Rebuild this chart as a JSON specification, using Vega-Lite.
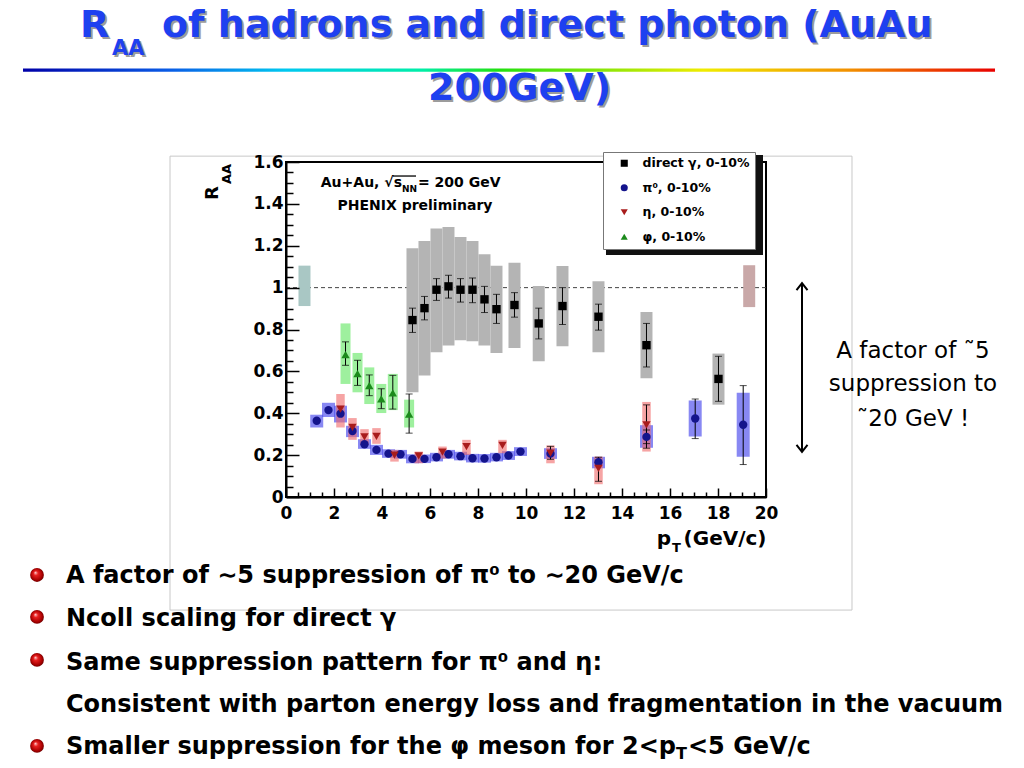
{
  "$schema": "https://vega.github.io/schema/vega-lite/v6.json",
  "width": 480,
  "height": 335,
  "autosize": {"type": "none"},
  "padding": {"left": 286, "top": 162, "right": 258, "bottom": 271},
  "background": "white",
  "config": {"view": {"stroke": "black", "strokeWidth": 2}, "font": "DejaVu Sans"},
  "datasets": {
    "pts": [
      {"k": "g", "s": "direct γ, 0-10%", "pT": 5.27, "R": 0.845, "eL": 0.786, "eH": 0.902, "sL": 0.5, "sH": 1.188},
      {"k": "g", "s": "direct γ, 0-10%", "pT": 5.77, "R": 0.902, "eL": 0.846, "eH": 0.958, "sL": 0.58, "sH": 1.223},
      {"k": "g", "s": "direct γ, 0-10%", "pT": 6.27, "R": 0.99, "eL": 0.939, "eH": 1.043, "sL": 0.691, "sH": 1.282},
      {"k": "g", "s": "direct γ, 0-10%", "pT": 6.77, "R": 1.006, "eL": 0.95, "eH": 1.059, "sL": 0.723, "sH": 1.289},
      {"k": "g", "s": "direct γ, 0-10%", "pT": 7.27, "R": 0.99, "eL": 0.931, "eH": 1.043, "sL": 0.749, "sH": 1.242},
      {"k": "g", "s": "direct γ, 0-10%", "pT": 7.77, "R": 0.99, "eL": 0.928, "eH": 1.046, "sL": 0.744, "sH": 1.223},
      {"k": "g", "s": "direct γ, 0-10%", "pT": 8.27, "R": 0.944, "eL": 0.881, "eH": 1.006, "sL": 0.723, "sH": 1.159},
      {"k": "g", "s": "direct γ, 0-10%", "pT": 8.77, "R": 0.897, "eL": 0.829, "eH": 0.968, "sL": 0.688, "sH": 1.105},
      {"k": "g", "s": "direct γ, 0-10%", "pT": 9.52, "R": 0.917, "eL": 0.859, "eH": 0.976, "sL": 0.712, "sH": 1.119},
      {"k": "g", "s": "direct γ, 0-10%", "pT": 10.53, "R": 0.829, "eL": 0.755, "eH": 0.902, "sL": 0.648, "sH": 1.008},
      {"k": "g", "s": "direct γ, 0-10%", "pT": 11.52, "R": 0.912, "eL": 0.824, "eH": 1.0, "sL": 0.72, "sH": 1.103},
      {"k": "g", "s": "direct γ, 0-10%", "pT": 13.02, "R": 0.861, "eL": 0.797, "eH": 0.921, "sL": 0.691, "sH": 1.03},
      {"k": "g", "s": "direct γ, 0-10%", "pT": 15.02, "R": 0.725, "eL": 0.621, "eH": 0.829, "sL": 0.567, "sH": 0.883},
      {"k": "g", "s": "direct γ, 0-10%", "pT": 18.02, "R": 0.564, "eL": 0.457, "eH": 0.672, "sL": 0.441, "sH": 0.685},
      {"k": "p", "s": "π⁰,  0-10%", "pT": 1.28, "R": 0.364, "sL": 0.332, "sH": 0.393},
      {"k": "p", "s": "π⁰,  0-10%", "pT": 1.77, "R": 0.415, "sL": 0.382, "sH": 0.45},
      {"k": "p", "s": "π⁰,  0-10%", "pT": 2.27, "R": 0.398, "sL": 0.356, "sH": 0.436},
      {"k": "p", "s": "π⁰,  0-10%", "pT": 2.77, "R": 0.315, "sL": 0.286, "sH": 0.34},
      {"k": "p", "s": "π⁰,  0-10%", "pT": 3.27, "R": 0.252, "sL": 0.23, "sH": 0.276},
      {"k": "p", "s": "π⁰,  0-10%", "pT": 3.77, "R": 0.225, "sL": 0.201, "sH": 0.249},
      {"k": "p", "s": "π⁰,  0-10%", "pT": 4.27, "R": 0.207, "sL": 0.187, "sH": 0.228},
      {"k": "p", "s": "π⁰,  0-10%", "pT": 4.77, "R": 0.204, "sL": 0.183, "sH": 0.225},
      {"k": "p", "s": "π⁰,  0-10%", "pT": 5.27, "R": 0.182, "sL": 0.161, "sH": 0.204},
      {"k": "p", "s": "π⁰,  0-10%", "pT": 5.77, "R": 0.182, "sL": 0.162, "sH": 0.203},
      {"k": "p", "s": "π⁰,  0-10%", "pT": 6.27, "R": 0.19, "sL": 0.17, "sH": 0.211},
      {"k": "p", "s": "π⁰,  0-10%", "pT": 6.77, "R": 0.204, "sL": 0.183, "sH": 0.225},
      {"k": "p", "s": "π⁰,  0-10%", "pT": 7.27, "R": 0.195, "sL": 0.175, "sH": 0.216},
      {"k": "p", "s": "π⁰,  0-10%", "pT": 7.77, "R": 0.185, "sL": 0.165, "sH": 0.206},
      {"k": "p", "s": "π⁰,  0-10%", "pT": 8.27, "R": 0.184, "sL": 0.164, "sH": 0.205},
      {"k": "p", "s": "π⁰,  0-10%", "pT": 8.77, "R": 0.19, "sL": 0.17, "sH": 0.211},
      {"k": "p", "s": "π⁰,  0-10%", "pT": 9.27, "R": 0.198, "sL": 0.177, "sH": 0.219},
      {"k": "p", "s": "π⁰,  0-10%", "pT": 9.77, "R": 0.217, "sL": 0.196, "sH": 0.238},
      {"k": "p", "s": "π⁰,  0-10%", "pT": 11.02, "R": 0.207, "sL": 0.182, "sH": 0.233},
      {"k": "p", "s": "π⁰,  0-10%", "pT": 13.02, "R": 0.166, "sL": 0.137, "sH": 0.192},
      {"k": "p", "s": "π⁰,  0-10%", "pT": 15.02, "R": 0.287, "eL": 0.255, "eH": 0.32, "sL": 0.235, "sH": 0.343},
      {"k": "p", "s": "π⁰,  0-10%", "pT": 17.05, "R": 0.375, "eL": 0.279, "eH": 0.468, "sL": 0.289, "sH": 0.461},
      {"k": "p", "s": "π⁰,  0-10%", "pT": 19.05, "R": 0.345, "eL": 0.155, "eH": 0.532, "sL": 0.192, "sH": 0.498},
      {"k": "e", "s": "η, 0-10%", "pT": 2.27, "R": 0.42, "sL": 0.332, "sH": 0.492},
      {"k": "e", "s": "η, 0-10%", "pT": 2.77, "R": 0.332, "sL": 0.273, "sH": 0.377},
      {"k": "e", "s": "η, 0-10%", "pT": 3.27, "R": 0.287, "sL": 0.249, "sH": 0.324},
      {"k": "e", "s": "η, 0-10%", "pT": 3.77, "R": 0.289, "sL": 0.254, "sH": 0.329},
      {"k": "e", "s": "η, 0-10%", "pT": 4.52, "R": 0.2, "sL": 0.169, "sH": 0.225},
      {"k": "e", "s": "η, 0-10%", "pT": 5.53, "R": 0.196, "sL": 0.161, "sH": 0.217},
      {"k": "e", "s": "η, 0-10%", "pT": 6.52, "R": 0.214, "sL": 0.184, "sH": 0.241},
      {"k": "e", "s": "η, 0-10%", "pT": 7.52, "R": 0.241, "sL": 0.201, "sH": 0.273},
      {"k": "e", "s": "η, 0-10%", "pT": 9.02, "R": 0.246, "sL": 0.209, "sH": 0.273},
      {"k": "e", "s": "η, 0-10%", "pT": 11.02, "R": 0.209, "eL": 0.18, "eH": 0.242, "sL": 0.161, "sH": 0.246},
      {"k": "e", "s": "η, 0-10%", "pT": 13.02, "R": 0.137, "eL": 0.075, "eH": 0.19, "sL": 0.061, "sH": 0.193},
      {"k": "e", "s": "η, 0-10%", "pT": 15.02, "R": 0.345, "eL": 0.233, "eH": 0.44, "sL": 0.217, "sH": 0.454},
      {"k": "f", "s": "φ, 0-10%", "pT": 2.48, "R": 0.68, "eL": 0.629, "eH": 0.741, "sL": 0.54, "sH": 0.829},
      {"k": "f", "s": "φ, 0-10%", "pT": 2.98, "R": 0.589, "eL": 0.533, "eH": 0.653, "sL": 0.5, "sH": 0.688},
      {"k": "f", "s": "φ, 0-10%", "pT": 3.47, "R": 0.532, "eL": 0.484, "eH": 0.583, "sL": 0.444, "sH": 0.619},
      {"k": "f", "s": "φ, 0-10%", "pT": 3.97, "R": 0.469, "eL": 0.422, "eH": 0.517, "sL": 0.401, "sH": 0.54},
      {"k": "f", "s": "φ, 0-10%", "pT": 4.45, "R": 0.497, "eL": 0.42, "eH": 0.581, "sL": 0.415, "sH": 0.588},
      {"k": "f", "s": "φ, 0-10%", "pT": 5.13, "R": 0.396, "eL": 0.305, "eH": 0.492, "sL": 0.332, "sH": 0.465}
    ],
    "norm": [
      {"c": "gamma", "pT": 0.77, "sL": 0.912, "sH": 1.105},
      {"c": "pi0", "pT": 19.3, "sL": 0.907, "sH": 1.107}
    ],
    "deco": [
      {"k": "box", "pT": -4.833, "pT2": 23.583, "R": 1.628, "R2": -0.54},
      {"k": "rainbow", "pT": -10.958, "pT2": 29.542, "R": 2.047, "R2": 2.031},
      {"k": "shadow", "pT": 13.333, "pT2": 19.875, "R": 1.633, "R2": 1.156},
      {"k": "unity", "pT": 0, "pT2": 20, "R": 1},
      {"k": "overline", "pT": 4.458, "pT2": 5.417, "R": 1.533},
      {"k": "arrow", "pT": 21.5, "R": 1.022, "R2": 0.215},
      {"k": "headUp", "pT": 21.5, "R": 1.022},
      {"k": "headDown", "pT": 21.5, "R": 0.215},
      {"k": "ball", "pT": -10.375, "R": -0.3725},
      {"k": "ball", "pT": -10.375, "R": -0.573},
      {"k": "ball", "pT": -10.375, "R": -0.778},
      {"k": "ball", "pT": -10.375, "R": -1.189}
    ],
    "txt": [
      {"k": "title", "pT": -8.583, "R": 2.197, "t": "R"},
      {"k": "title", "pT": -5.167, "R": 2.197, "t": "of hadrons and direct photon (AuAu"},
      {"k": "title", "pT": 5.917, "R": 1.895, "t": "200GeV)"},
      {"k": "titleSub", "pT": -7.25, "R": 2.111, "t": "AA"},
      {"k": "note", "pT": 26.125, "R": 0.664, "t": "A factor of ˜5"},
      {"k": "note", "pT": 26.125, "R": 0.506, "t": "suppression to"},
      {"k": "note", "pT": 26.125, "R": 0.339, "t": "˜20 GeV !"},
      {"k": "bullet", "pT": -9.167, "R": -0.411, "t": "A factor of ∼5 suppression of π⁰ to ∼20 GeV/c"},
      {"k": "bullet", "pT": -9.167, "R": -0.616, "t": "Ncoll scaling for direct γ"},
      {"k": "bullet", "pT": -9.167, "R": -0.826, "t": "Same suppression pattern for π⁰ and η:"},
      {"k": "bullet", "pT": -9.167, "R": -1.027, "t": "Consistent with parton energy loss and fragmentation  in the vacuum"},
      {"k": "bullet", "pT": -9.167, "R": -1.227, "t": "Smaller suppression for the φ meson for 2<p"},
      {"k": "bullet", "pT": 16.75, "R": -1.227, "t": "<5 GeV/c"},
      {"k": "bulletSub", "pT": 16.25, "R": -1.251, "t": "T"},
      {"k": "plotC", "pT": 5.375, "R": 1.371, "t": "PHENIX preliminary"},
      {"k": "plotR", "pT": 4.833, "R": 1.48, "t": "Au+Au, √s"},
      {"k": "plotL", "pT": 5.5, "R": 1.48, "t": "= 200 GeV"},
      {"k": "plotSub", "pT": 4.833, "R": 1.457, "t": "NN"},
      {"k": "xt", "pT": 16.042, "R": -0.229, "t": "p"},
      {"k": "xt", "pT": 20.02, "R": -0.229, "t": "(GeV/c)"},
      {"k": "xtSub", "pT": 16.083, "R": -0.263, "t": "T"},
      {"k": "yt", "pT": -2.833, "R": 1.418, "t": "R"},
      {"k": "ytSub", "pT": -2.292, "R": 1.495, "t": "AA"}
    ]
  },
  "encoding": {
    "x": {
      "field": "pT", "type": "quantitative",
      "scale": {"domain": [0, 20], "nice": false, "zero": false, "padding": 0},
      "axis": {
        "values": [0, 0.5, 1, 1.5, 2, 2.5, 3, 3.5, 4, 4.5, 5, 5.5, 6, 6.5, 7, 7.5, 8, 8.5, 9, 9.5, 10, 10.5, 11, 11.5, 12, 12.5, 13, 13.5, 14, 14.5, 15, 15.5, 16, 16.5, 17, 17.5, 18, 18.5, 19, 19.5, 20],
        "tickSize": {"condition": {"test": "datum.value % 2 === 0", "value": -9}, "value": -5},
        "labelExpr": "datum.value % 2 === 0 ? format(datum.value, 'd') : ''",
        "labelPadding": 17,
        "labelFlush": false, "labelOverlap": false, "labelBound": false,
        "labelFont": "DejaVu Sans", "labelFontWeight": "bold", "labelFontSize": 17, "labelColor": "black",
        "domainColor": "black", "domainWidth": 2, "tickColor": "black", "tickWidth": 1.5,
        "grid": false, "title": null, "zindex": 1
      }
    },
    "y": {
      "field": "R", "type": "quantitative",
      "scale": {"domain": [0, 1.6], "nice": false, "zero": false, "padding": 0},
      "axis": {
        "values": [0, 0.05, 0.1, 0.15, 0.2, 0.25, 0.3, 0.35, 0.4, 0.45, 0.5, 0.55, 0.6, 0.65, 0.7, 0.75, 0.8, 0.85, 0.9, 0.95, 1, 1.05, 1.1, 1.15, 1.2, 1.25, 1.3, 1.35, 1.4, 1.45, 1.5, 1.55, 1.6],
        "tickSize": {"condition": {"test": "abs(datum.value*5-round(datum.value*5)) < 0.001", "value": -13}, "value": -7},
        "labelExpr": "abs(datum.value*5-round(datum.value*5)) < 0.001 ? format(datum.value, '~g') : ''",
        "labelPadding": 16,
        "labelFlush": false, "labelOverlap": false, "labelBound": false,
        "labelFont": "DejaVu Sans", "labelFontWeight": "bold", "labelFontSize": 17, "labelColor": "black",
        "domainColor": "black", "domainWidth": 2, "tickColor": "black", "tickWidth": 1.5,
        "grid": false, "title": null, "zindex": 1
      }
    }
  },
  "layer": [
    {
      "data": {"name": "deco"},
      "transform": [{"filter": "datum.k === 'box'"}],
      "mark": {"type": "rect", "filled": false, "color": "#c8c8c8", "strokeWidth": 1},
      "encoding": {"x2": {"field": "pT2"}, "y2": {"field": "R2"}}
    },
    {
      "data": {"name": "deco"},
      "transform": [{"filter": "datum.k === 'rainbow'"}],
      "mark": {"type": "rect", "strokeWidth": 0,
        "fill": {"gradient": "linear", "x1": 0, "y1": 0, "x2": 1, "y2": 0, "stops": [
          {"offset": 0, "color": "#0000a8"},
          {"offset": 0.15, "color": "#0a5ce6"},
          {"offset": 0.27, "color": "#00c8f0"},
          {"offset": 0.41, "color": "#00eea8"},
          {"offset": 0.49, "color": "#22e010"},
          {"offset": 0.7, "color": "#f0ec00"},
          {"offset": 0.85, "color": "#f29000"},
          {"offset": 1, "color": "#e80000"}]}},
      "encoding": {"x2": {"field": "pT2"}, "y2": {"field": "R2"}}
    },
    {
      "data": {"name": "deco"},
      "transform": [{"filter": "datum.k === 'unity'"}],
      "mark": {"type": "rule", "color": "#444444", "strokeWidth": 1, "strokeDash": [4, 3]},
      "encoding": {"x2": {"field": "pT2"}}
    },
    {
      "data": {"name": "norm"},
      "mark": {"type": "bar", "width": 12},
      "encoding": {
        "y": {"field": "sL", "type": "quantitative", "title": null},
        "y2": {"field": "sH"},
        "fill": {"field": "c", "type": "nominal", "legend": null, "scale": {"domain": ["gamma", "pi0"], "range": ["#a9c7c4", "#c9a8a8"]}}
      }
    },
    {
      "data": {"name": "pts"},
      "transform": [{"filter": "datum.k === 'g'"}],
      "mark": {"type": "bar", "width": 12, "color": "#b4b4b4"},
      "encoding": {"y": {"field": "sL", "type": "quantitative", "title": null}, "y2": {"field": "sH"}}
    },
    {
      "data": {"name": "pts"},
      "transform": [{"filter": "datum.k === 'f'"}],
      "mark": {"type": "bar", "width": 10, "color": "#5ee65e", "opacity": 0.6},
      "encoding": {"y": {"field": "sL", "type": "quantitative", "title": null}, "y2": {"field": "sH"}}
    },
    {
      "data": {"name": "pts"},
      "transform": [{"filter": "datum.k === 'p'"}],
      "mark": {"type": "bar", "width": 13, "color": "#5050ee", "opacity": 0.68},
      "encoding": {"y": {"field": "sL", "type": "quantitative", "title": null}, "y2": {"field": "sH"}}
    },
    {
      "data": {"name": "pts"},
      "transform": [{"filter": "datum.k === 'e'"}],
      "mark": {"type": "bar", "width": 8.5, "color": "#f06868", "opacity": 0.6},
      "encoding": {"y": {"field": "sL", "type": "quantitative", "title": null}, "y2": {"field": "sH"}}
    },
    {
      "data": {"name": "pts"},
      "transform": [{"filter": "isValid(datum.eL)"}],
      "mark": {"type": "errorbar", "color": "black", "ticks": {"size": 7, "thickness": 1, "color": "black"}, "rule": {"strokeWidth": 1, "color": "black"}},
      "encoding": {"y": {"field": "eL", "type": "quantitative", "title": null}, "y2": {"field": "eH"}}
    },
    {
      "data": {"name": "pts"},
      "mark": {"type": "point", "filled": true, "size": 70, "opacity": 1, "strokeWidth": 0},
      "encoding": {
        "color": {"field": "s", "type": "nominal",
          "scale": {"domain": ["direct γ, 0-10%", "π⁰,  0-10%", "η, 0-10%", "φ, 0-10%"], "range": ["#000000", "#14148c", "#a81c1c", "#1c8a1c"]},
          "legend": {"orient": "none", "legendX": 317, "legendY": -10, "title": null, "fillColor": "white", "strokeColor": "#777777", "padding": 5, "symbolSize": 50, "symbolStrokeWidth": 0, "symbolOffset": 10, "labelOffset": 12, "rowPadding": 11.5, "labelFont": "DejaVu Sans", "labelFontWeight": "bold", "labelFontSize": 12.5, "labelColor": "black", "labelLimit": 300}},
        "shape": {"field": "s", "type": "nominal",
          "scale": {"domain": ["direct γ, 0-10%", "π⁰,  0-10%", "η, 0-10%", "φ, 0-10%"], "range": ["square", "circle", "triangle-down", "triangle-up"]}}
      }
    },
    {
      "data": {"name": "deco"},
      "transform": [{"filter": "datum.k === 'shadow'"}],
      "mark": {"type": "rect", "color": "#111111"},
      "encoding": {"x2": {"field": "pT2"}, "y2": {"field": "R2"}}
    },
    {
      "data": {"name": "deco"},
      "transform": [{"filter": "datum.k === 'overline'"}],
      "mark": {"type": "rule", "color": "black", "strokeWidth": 1.3},
      "encoding": {"x2": {"field": "pT2"}}
    },
    {
      "data": {"name": "deco"},
      "transform": [{"filter": "datum.k === 'arrow'"}],
      "mark": {"type": "rule", "color": "black", "strokeWidth": 2},
      "encoding": {"y2": {"field": "R2"}}
    },
    {
      "data": {"name": "deco"},
      "transform": [{"filter": "datum.k === 'headUp'"}],
      "mark": {"type": "point", "shape": "M-1,1.3L0,0L1,1.3", "filled": false, "color": "black", "strokeWidth": 2, "size": 121, "opacity": 1},
      "encoding": {}
    },
    {
      "data": {"name": "deco"},
      "transform": [{"filter": "datum.k === 'headDown'"}],
      "mark": {"type": "point", "shape": "M-1,-1.3L0,0L1,-1.3", "filled": false, "color": "black", "strokeWidth": 2, "size": 121, "opacity": 1},
      "encoding": {}
    },
    {
      "data": {"name": "deco"},
      "transform": [{"filter": "datum.k === 'ball'"}],
      "mark": {"type": "point", "shape": "circle", "filled": true, "size": 190, "opacity": 1, "strokeWidth": 0,
        "fill": {"gradient": "radial", "x1": 0.38, "y1": 0.32, "r1": 0, "x2": 0.5, "y2": 0.5, "r2": 0.55, "stops": [
          {"offset": 0, "color": "#ffd0d0"},
          {"offset": 0.3, "color": "#e82020"},
          {"offset": 0.75, "color": "#a80000"},
          {"offset": 1, "color": "#580000"}]}},
      "encoding": {}
    },
    {
      "data": {"name": "txt"},
      "transform": [{"filter": "datum.k === 'title'"}],
      "mark": {"type": "text", "align": "left", "baseline": "alphabetic", "font": "DejaVu Sans", "fontWeight": "bold", "fontSize": 38, "color": "#9c9c9c", "dx": 2, "dy": 2},
      "encoding": {"text": {"field": "t"}}
    },
    {
      "data": {"name": "txt"},
      "transform": [{"filter": "datum.k === 'title'"}],
      "mark": {"type": "text", "align": "left", "baseline": "alphabetic", "font": "DejaVu Sans", "fontWeight": "bold", "fontSize": 38, "color": "#1e40f0"},
      "encoding": {"text": {"field": "t"}}
    },
    {
      "data": {"name": "txt"},
      "transform": [{"filter": "datum.k === 'titleSub'"}],
      "mark": {"type": "text", "align": "left", "baseline": "alphabetic", "font": "DejaVu Sans", "fontWeight": "bold", "fontSize": 21, "color": "#9c9c9c", "dx": 2, "dy": 2},
      "encoding": {"text": {"field": "t"}}
    },
    {
      "data": {"name": "txt"},
      "transform": [{"filter": "datum.k === 'titleSub'"}],
      "mark": {"type": "text", "align": "left", "baseline": "alphabetic", "font": "DejaVu Sans", "fontWeight": "bold", "fontSize": 21, "color": "#1e40f0"},
      "encoding": {"text": {"field": "t"}}
    },
    {
      "data": {"name": "txt"},
      "transform": [{"filter": "datum.k === 'note'"}],
      "mark": {"type": "text", "align": "center", "baseline": "alphabetic", "font": "DejaVu Sans", "fontSize": 23, "color": "black"},
      "encoding": {"text": {"field": "t"}}
    },
    {
      "data": {"name": "txt"},
      "transform": [{"filter": "datum.k === 'bullet'"}],
      "mark": {"type": "text", "align": "left", "baseline": "alphabetic", "font": "DejaVu Sans", "fontWeight": "bold", "fontSize": 24, "color": "black"},
      "encoding": {"text": {"field": "t"}}
    },
    {
      "data": {"name": "txt"},
      "transform": [{"filter": "datum.k === 'bulletSub'"}],
      "mark": {"type": "text", "align": "left", "baseline": "alphabetic", "font": "DejaVu Sans", "fontWeight": "bold", "fontSize": 16, "color": "black"},
      "encoding": {"text": {"field": "t"}}
    },
    {
      "data": {"name": "txt"},
      "transform": [{"filter": "datum.k === 'plotC'"}],
      "mark": {"type": "text", "align": "center", "baseline": "alphabetic", "font": "DejaVu Sans", "fontWeight": "bold", "fontSize": 14, "color": "black"},
      "encoding": {"text": {"field": "t"}}
    },
    {
      "data": {"name": "txt"},
      "transform": [{"filter": "datum.k === 'plotR'"}],
      "mark": {"type": "text", "align": "right", "baseline": "alphabetic", "font": "DejaVu Sans", "fontWeight": "bold", "fontSize": 14, "color": "black"},
      "encoding": {"text": {"field": "t"}}
    },
    {
      "data": {"name": "txt"},
      "transform": [{"filter": "datum.k === 'plotL'"}],
      "mark": {"type": "text", "align": "left", "baseline": "alphabetic", "font": "DejaVu Sans", "fontWeight": "bold", "fontSize": 14, "color": "black"},
      "encoding": {"text": {"field": "t"}}
    },
    {
      "data": {"name": "txt"},
      "transform": [{"filter": "datum.k === 'plotSub'"}],
      "mark": {"type": "text", "align": "left", "baseline": "alphabetic", "font": "DejaVu Sans", "fontWeight": "bold", "fontSize": 9, "color": "black"},
      "encoding": {"text": {"field": "t"}}
    },
    {
      "data": {"name": "txt"},
      "transform": [{"filter": "datum.k === 'xt'"}],
      "mark": {"type": "text", "align": "right", "baseline": "alphabetic", "font": "DejaVu Sans", "fontWeight": "bold", "fontSize": 20, "color": "black"},
      "encoding": {"text": {"field": "t"}}
    },
    {
      "data": {"name": "txt"},
      "transform": [{"filter": "datum.k === 'xtSub'"}],
      "mark": {"type": "text", "align": "left", "baseline": "alphabetic", "font": "DejaVu Sans", "fontWeight": "bold", "fontSize": 13, "color": "black"},
      "encoding": {"text": {"field": "t"}}
    },
    {
      "data": {"name": "txt"},
      "transform": [{"filter": "datum.k === 'yt'"}],
      "mark": {"type": "text", "align": "left", "baseline": "alphabetic", "angle": 270, "font": "DejaVu Sans", "fontWeight": "bold", "fontSize": 18, "color": "black"},
      "encoding": {"text": {"field": "t"}}
    },
    {
      "data": {"name": "txt"},
      "transform": [{"filter": "datum.k === 'ytSub'"}],
      "mark": {"type": "text", "align": "left", "baseline": "alphabetic", "angle": 270, "font": "DejaVu Sans", "fontWeight": "bold", "fontSize": 13, "color": "black"},
      "encoding": {"text": {"field": "t"}}
    }
  ]
}
